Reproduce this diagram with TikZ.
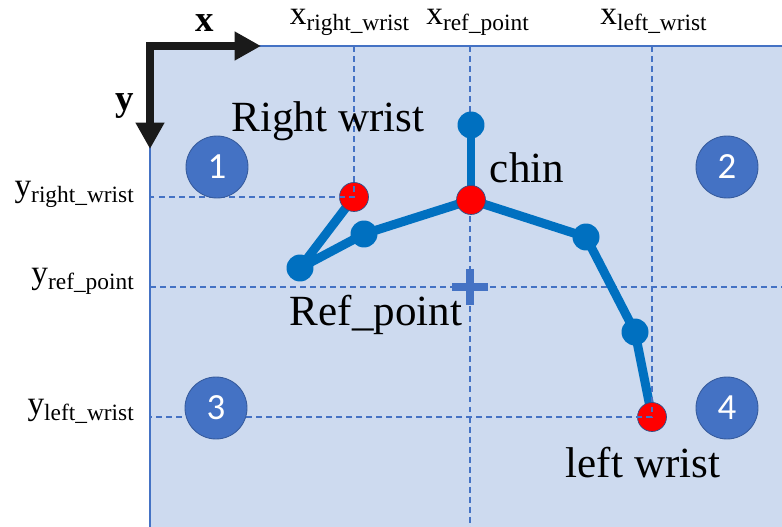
\documentclass[tikz,border=0pt]{standalone}
\usepackage{fontspec}
\setmainfont{Liberation Serif}
\newfontfamily\numfont{Carlito}
\usepackage{tikz}
\usetikzlibrary{arrows.meta,positioning}
\definecolor{panelblue}{HTML}{CDDAEF}
\definecolor{gridblue}{HTML}{4472C4}
\definecolor{bonecol}{HTML}{0070C0}
\definecolor{axiscol}{HTML}{1A1A1A}

\begin{document}
\begin{tikzpicture}[x=0.02cm,y=-0.02cm,
    guide/.style={gridblue,line width=0.6pt,dash pattern=on 3.4pt off 2.3pt},
    bone/.style={bonecol,line width=5.1pt,line cap=round,line join=round},
    joint/.style={circle,fill=bonecol,inner sep=0pt,minimum size=0.54cm},
    wrist/.style={circle,fill=red,draw=gridblue!70!black,line width=0.4pt,inner sep=0pt,minimum size=0.58cm},
    quad/.style={circle,fill=gridblue,draw=gridblue!80!black,line width=0.5pt,inner sep=0pt,minimum size=1.24cm,
        text=white,font=\numfont\fontsize{21}{21}\selectfont},
    lbl/.style={font=\fontsize{24.5}{28}\selectfont,inner sep=0pt},
    coord/.style={font=\fontsize{19}{22}\selectfont,inner sep=0pt}]
    \useasboundingbox (0,0) rectangle (782,527);
    % panel
    \fill[panelblue] (150,46) rectangle (782,527);
    \draw[gridblue,line width=0.9pt] (150,527) -- (150,46) -- (782,46);
    % skeleton points
    \coordinate (head) at (471,125);
    \coordinate (chin) at (471,200);
    \coordinate (rsh)  at (364,234);
    \coordinate (relb) at (300,268);
    \coordinate (rwr)  at (354,197);
    \coordinate (lsh)  at (586,237);
    \coordinate (lelb) at (635,332);
    \coordinate (lwr)  at (652,417);
    \coordinate (ref)  at (470,287);
    % reference guides
    \draw[guide] (ref |- 0,46) -- (ref |- 0,527);
    \draw[guide] (ref -| 150,0) -- (ref -| 782,0);
    % bones
    \draw[bone] (head) -- (chin);
    \draw[bone] (chin) -- (rsh) -- (relb) -- (rwr);
    \draw[bone] (chin) -- (lsh) -- (lelb) -- (lwr);
    \node[joint] (headpt) at (head) {};
    \node[joint] (rshpt)  at (rsh) {};
    \node[joint] (relbpt) at (relb) {};
    \node[joint] (lshpt)  at (lsh) {};
    \node[joint] (lelbpt) at (lelb) {};
    \node[wrist] (chinpt) at (chin) {};
    \node[wrist] (rwrpt)  at (rwr) {};
    \node[wrist] (lwrpt)  at (lwr) {};
    % wrist guides
    \draw[guide] (rwrpt |- 0,46) -- (rwrpt.center) -- (rwrpt -| 150,0);
    \draw[guide] (lwrpt |- 0,46) -- (lwrpt.center) -- (lwrpt -| 150,0);
    % quadrants
    \node[quad] (q1) at (217,167) {1};
    \node[quad] (q2) at (727,167) {2};
    \node[quad] (q3) at (216,408) {3};
    \node[quad] (q4) at (727,408) {4};
    % ref point mark
    \draw[gridblue,line width=5pt] (452,287) -- (488,287) (470,269) -- (470,305);
    % axes
    \coordinate (origin) at (150,46);
    \coordinate (xtip) at (261,46);
    \coordinate (ytip) at (150,149);
    \draw[axiscol,line width=4.5pt,line join=miter,
        {Triangle[length=15pt,width=15.5pt]}-{Triangle[length=15pt,width=15.5pt]}]
        (ytip) -- (origin) -- (xtip);
    \node[font=\bfseries\fontsize{21}{24}\selectfont,anchor=base,inner sep=0pt] (xlab) at (205,32) {x};
    \node[font=\bfseries\fontsize{21}{24}\selectfont,anchor=base,inner sep=0pt] (ylab) at (125,111) {y};
    % coordinate labels
    \node[coord,anchor=base] (xrw)  at (350,25) {x\textsubscript{right\_wrist}};
    \node[coord,anchor=base] (xref) at (478,25) {x\textsubscript{ref\_point}};
    \node[coord,anchor=base] (xlw)  at (654,25) {x\textsubscript{left\_wrist}};
    \node[coord,anchor=base east] (yrw)  at (135,197) {y\textsubscript{right\_wrist}};
    \node[coord,anchor=base east] (yref) at (135,284) {y\textsubscript{ref\_point}};
    \node[coord,anchor=base east] (ylw)  at (135,415) {y\textsubscript{left\_wrist}};
    % point labels
    \node[lbl,anchor=base] (rwrlab)  at (328,132) {Right wrist};
    \node[lbl,anchor=base] (chinlab) at (527,183) {chin};
    \node[lbl,anchor=base] (reflab)  at (376,325) {Ref\_point};
    \node[lbl,anchor=base] (lwrlab)  at (643,477) {left wrist};
\end{tikzpicture}
\end{document}
